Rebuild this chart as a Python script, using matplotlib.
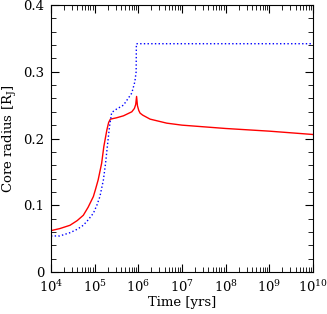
import matplotlib
matplotlib.use('Agg')
import matplotlib.pyplot as plt
import numpy as np
from matplotlib.ticker import MultipleLocator, LogLocator, FixedLocator, NullFormatter

plt.rcParams['font.family'] = ['DejaVu Serif']
plt.rcParams['mathtext.fontset'] = 'dejavuserif'

# log10(t) e raio do nucleo (curva vermelha, continua)
LOG_T_RED = [4.0, 4.2, 4.435, 4.6, 4.74, 4.85, 4.97, 5.02, 5.08, 5.16, 5.21, 5.28,
             5.32, 5.36, 5.5, 5.66, 5.85, 5.91, 5.94, 5.96, 5.98, 6.01, 6.04, 6.1,
             6.27, 6.65, 7.0, 7.5, 8.0, 8.5, 9.0, 9.5, 10.0]
R_RED = [0.062, 0.065, 0.070, 0.077, 0.085, 0.097, 0.113, 0.124, 0.138, 0.163, 0.188,
         0.213, 0.224, 0.229, 0.231, 0.234, 0.240, 0.245, 0.251, 0.263, 0.249, 0.242,
         0.238, 0.235, 0.229, 0.223, 0.220, 0.2175, 0.215, 0.213, 0.211, 0.2085, 0.206]

# curva azul (pontilhada)
LOG_T_BLUE = [4.0, 4.2, 4.44, 4.6, 4.74, 4.85, 4.97, 5.05, 5.12, 5.20, 5.25, 5.29,
              5.34, 5.39, 5.5, 5.66, 5.85, 5.92, 5.95, 5.955, 6.5, 10.0]
R_BLUE = [0.054, 0.054, 0.059, 0.064, 0.070, 0.078, 0.088, 0.100, 0.113, 0.138, 0.163,
          0.188, 0.218, 0.239, 0.244, 0.250, 0.268, 0.285, 0.300, 0.342, 0.342, 0.342]

fig = plt.figure(figsize=(3.27, 3.14), dpi=100)
ax = fig.add_axes([51 / 327, 42 / 314, 262 / 327, 267 / 314])

ax.plot(10 ** np.array(LOG_T_RED), R_RED, color='red', linewidth=1.0)
ax.plot(10 ** np.array(LOG_T_BLUE), R_BLUE, color='blue', linestyle=':', linewidth=1.0)

ax.set_xscale('log')
ax.set_xlim(1e4, 1e10)
ax.set_ylim(0, 0.4)

ax.xaxis.set_major_locator(FixedLocator([1e4, 1e5, 1e6, 1e7, 1e8, 1e9, 1e10]))
ax.xaxis.set_minor_locator(LogLocator(base=10, subs=np.arange(2, 10), numticks=20))
ax.xaxis.set_minor_formatter(NullFormatter())
ax.set_xticklabels([r'$10^{%d}$' % n for n in range(4, 11)])

ax.set_yticks([0, 0.1, 0.2, 0.3, 0.4])
ax.set_yticklabels(['0', '0.1', '0.2', '0.3', '0.4'])
ax.yaxis.set_minor_locator(MultipleLocator(0.02))

ax.tick_params(which='both', direction='in', top=True, right=True, labelsize=9.5)
ax.tick_params(axis='x', which='major', pad=5)
ax.tick_params(axis='y', which='major', pad=5)
ax.tick_params(which='major', length=6, width=0.8)
ax.tick_params(which='minor', length=3.5, width=0.6)

ax.set_xlabel('Time [yrs]', fontsize=9.5, labelpad=1)
ax.set_ylabel(r'Core radius [R$_{\rm J}$]', fontsize=9.5, labelpad=3)

fig.savefig('out.png', dpi=100)
